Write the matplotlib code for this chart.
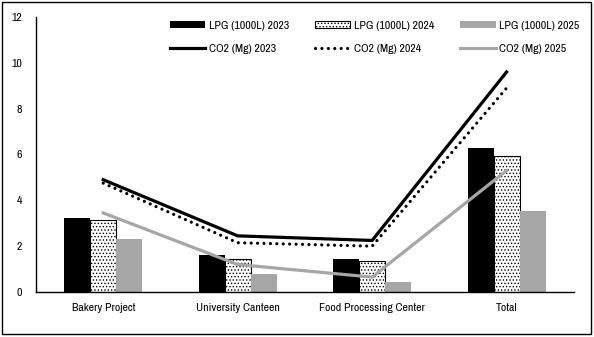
import matplotlib.pyplot as plt
import numpy as np
from matplotlib.patches import Rectangle

plt.rcParams['font.family'] = ['Liberation Sans Narrow', 'Archivo Narrow', 'DejaVu Sans']
plt.rcParams['hatch.linewidth'] = 0.6

categories = ['Bakery Project', 'University Canteen', 'Food Processing Center', 'Total']
lpg_2023 = [3.25, 1.6, 1.45, 6.3]
lpg_2024 = [3.15, 1.45, 1.35, 5.95]
lpg_2025 = [2.3, 0.8, 0.45, 3.55]
co2_2023 = [4.9, 2.45, 2.25, 9.6]
co2_2024 = [4.75, 2.15, 2.0, 8.9]
co2_2025 = [3.45, 1.2, 0.65, 5.3]
y_ticks = [0, 2, 4, 6, 8, 10, 12]

grey = '#a6a6a6'

fig = plt.figure(figsize=(5.94, 3.37), dpi=100)
ax = fig.add_axes([0.0606, 0.1335, 0.9054, 0.8161])

x = np.arange(len(categories))
w = 0.193
b1 = ax.bar(x - w, lpg_2023, w, color='black', label='LPG (1000L) 2023')
b2 = ax.bar(x, lpg_2024, w, color='white', edgecolor='black', hatch='.....',
            linewidth=0.8, label='LPG (1000L) 2024')
b3 = ax.bar(x + w, lpg_2025, w, color=grey, label='LPG (1000L) 2025')

l1, = ax.plot(x, co2_2023, color='black', lw=2.3, label='CO2 (Mg) 2023')
l2, = ax.plot(x, co2_2024, color='black', lw=2.3, linestyle=(0, (0.01, 2.0)),
              dash_capstyle='round', label='CO2 (Mg) 2024')
l3, = ax.plot(x, co2_2025, color=grey, lw=2.3, label='CO2 (Mg) 2025')

ax.set_xlim(-0.5, 3.5)
ax.set_ylim(0, 12)
ax.set_yticks(y_ticks)
ax.set_xticks(x)
ax.set_xticklabels(categories)
ax.tick_params(axis='both', length=0, labelsize=8.5, pad=8)
ax.tick_params(axis='y', pad=10)
for s in ['top', 'right']:
    ax.spines[s].set_visible(False)
for s in ['left', 'bottom']:
    ax.spines[s].set_linewidth(1.0)

handles = [b1, l1, b2, l2, b3, l3]
ax.legend(handles=handles, labels=[h.get_label() for h in handles], ncol=3,
          loc='upper left', bbox_to_anchor=(0.268, 0.97), bbox_transform=fig.transFigure,
          frameon=False, fontsize=8.5, handlelength=3.0, handleheight=0.5,
          handletextpad=0.3, columnspacing=2.2, labelspacing=1.1)

fig.patches.append(Rectangle((0.004, 0.009), 0.991, 0.985, transform=fig.transFigure,
                             fill=False, edgecolor='black', linewidth=1.0))

fig.savefig('out.png', dpi=100)
